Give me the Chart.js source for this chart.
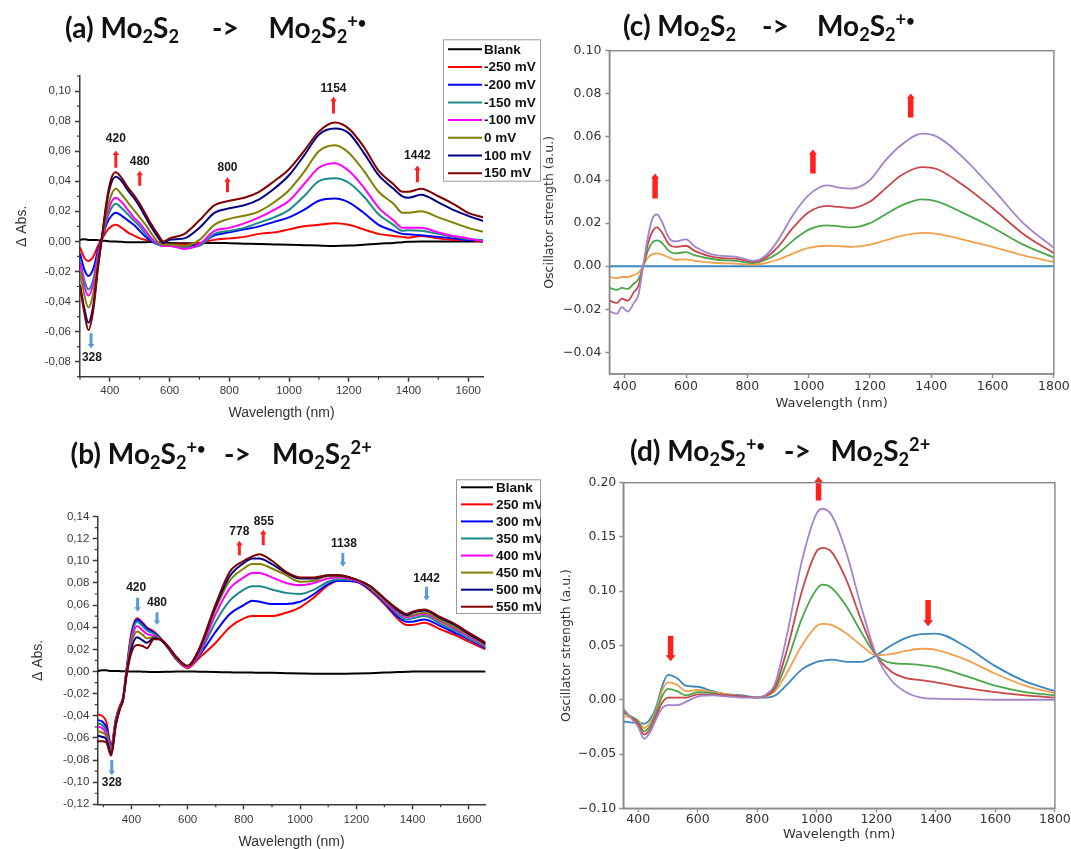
<!DOCTYPE html>
<html lang="en">
<head>
  <meta charset="UTF-8" />
  <title>Mo2S2 spectroelectrochemistry</title>
  <script src="https://cdn.jsdelivr.net/npm/chart.js"></script>
  <style>
    body { margin: 0; background: #fff; }
    #page { position: relative; width: 1071px; height: 849px; overflow: hidden; background: #fff; }
    canvas { position: absolute; }
    .t {
      position: absolute; z-index: 2; white-space: nowrap;
      font-family: Lato, "Open Sans", sans-serif; font-weight: 700;
      font-size: 28px; line-height: 28px; color: #111;
    }
    .t sub { font-size: 0.65em; vertical-align: -0.28em; line-height: 0; }
    .t sup { font-size: 0.65em; vertical-align: 0.55em; line-height: 0; }
    .t sup i { font-style: normal; font-size: 0.8em; }
  </style>
</head>
<body>
<div id="page">
  <canvas id="ca" width="541" height="430" style="left:0;top:0"></canvas>
  <canvas id="cb" width="541" height="419" style="left:0;top:430px"></canvas>
  <canvas id="cc" width="535" height="430" style="left:536px;top:0"></canvas>
  <canvas id="cd" width="535" height="419" style="left:536px;top:430px"></canvas>

  <div class="t" style="left:65px;top:12.7px">(a) Mo<sub>2</sub>S<sub>2</sub></div>
  <div class="t" style="left:212px;top:12.7px">-&gt;</div>
  <div class="t" style="left:268.6px;top:12.7px">Mo<sub>2</sub>S<sub>2</sub><sup>+<i>•</i></sup></div>

  <div class="t" style="left:623px;top:11px">(c) Mo<sub>2</sub>S<sub>2</sub></div>
  <div class="t" style="left:762px;top:11px">-&gt;</div>
  <div class="t" style="left:817px;top:11px">Mo<sub>2</sub>S<sub>2</sub><sup>+<i>•</i></sup></div>

  <div class="t" style="left:70.6px;top:439.3px">(b) Mo<sub>2</sub>S<sub>2</sub><sup>+<i>•</i></sup></div>
  <div class="t" style="left:224px;top:439.3px">-&gt;</div>
  <div class="t" style="left:272px;top:439.3px">Mo<sub>2</sub>S<sub>2</sub><sup>2+</sup></div>

  <div class="t" style="left:630px;top:436px">(d) Mo<sub>2</sub>S<sub>2</sub><sup>+<i>•</i></sup></div>
  <div class="t" style="left:784px;top:436px">-&gt;</div>
  <div class="t" style="left:830.5px;top:436px">Mo<sub>2</sub>S<sub>2</sub><sup>2+</sup></div>
</div>

<script>
// ---- (a) Mo2S2 -> Mo2S2+. experimental difference spectra
const aWave  = [300,315,328,345,360,375,390,405,420,440,460,480,500,520,540,560,580,600,650,700,750,800,850,900,950,1000,1050,1100,1154,1200,1250,1300,1350,1380,1400,1442,1500,1550,1600,1650];
const aBlank = [0.001,0.0015,0.001,0.001,0.0008,0.0005,0.0003,0,0,-0.0003,-0.0005,-0.0005,-0.0006,-0.0005,-0.0004,-0.0005,-0.0008,-0.001,-0.0012,-0.0012,-0.001,-0.0012,-0.0015,-0.0018,-0.002,-0.0022,-0.0025,-0.0028,-0.003,-0.0028,-0.0022,-0.0015,-0.001,-0.0005,-0.0003,0,0,0,0,-0.0002];
const aM250  = [-0.004,-0.011,-0.013,-0.010,-0.003,0.002,0.007,0.010,0.011,0.009,0.006,0.004,0.002,0.001,0.000,-0.001,-0.002,-0.002,-0.002,-0.001,0.001,0.002,0.003,0.005,0.006,0.008,0.010,0.011,0.012,0.011,0.008,0.005,0.0036,0.003,0.0025,0.0036,0.002,0.001,0.001,0.000];
const aM200  = [-0.008,-0.019,-0.023,-0.018,-0.006,0.003,0.012,0.017,0.019,0.017,0.014,0.011,0.007,0.003,0.000,-0.002,-0.003,-0.003,-0.003,-0.002,0.004,0.006,0.008,0.010,0.013,0.016,0.021,0.027,0.0285,0.026,0.019,0.011,0.007,0.005,0.0047,0.004,0.003,0.002,0.001,0.001];
const aM150  = [-0.012,-0.026,-0.032,-0.025,-0.009,0.003,0.015,0.022,0.025,0.022,0.018,0.014,0.010,0.005,0.001,-0.002,-0.003,-0.003,-0.004,-0.003,0.005,0.007,0.009,0.0125,0.016,0.021,0.030,0.040,0.042,0.039,0.030,0.018,0.011,0.007,0.0074,0.007,0.005,0.003,0.0015,0.001];
const aM100  = [-0.014,-0.030,-0.036,-0.028,-0.010,0.004,0.017,0.026,0.029,0.026,0.021,0.016,0.012,0.007,0.002,-0.001,-0.003,-0.003,-0.005,-0.002,0.007,0.009,0.012,0.016,0.021,0.027,0.038,0.049,0.052,0.047,0.036,0.0225,0.014,0.009,0.009,0.009,0.006,0.0036,0.002,0.000];
const aZero  = [-0.020,-0.036,-0.044,-0.034,-0.013,0.004,0.020,0.031,0.035,0.031,0.026,0.021,0.016,0.011,0.005,0.000,-0.002,-0.002,-0.003,0.001,0.011,0.015,0.017,0.020,0.026,0.034,0.046,0.060,0.064,0.059,0.047,0.033,0.025,0.019,0.019,0.020,0.016,0.0125,0.009,0.0065];
const aP100  = [-0.029,-0.045,-0.054,-0.042,-0.017,0.005,0.026,0.039,0.043,0.040,0.034,0.029,0.023,0.016,0.009,0.003,-0.001,0.001,0.002,0.009,0.019,0.022,0.024,0.028,0.035,0.044,0.057,0.071,0.075,0.072,0.059,0.044,0.035,0.030,0.029,0.031,0.026,0.021,0.017,0.0136];
const aP150  = [-0.030,-0.048,-0.059,-0.045,-0.018,0.005,0.028,0.042,0.046,0.042,0.036,0.031,0.025,0.018,0.011,0.005,0.000,0.002,0.005,0.014,0.024,0.027,0.029,0.033,0.040,0.048,0.060,0.073,0.079,0.075,0.063,0.047,0.038,0.033,0.033,0.035,0.030,0.025,0.019,0.016];
const aLabels = ['Blank','-250 mV','-200 mV','-150 mV','-100 mV','0 mV','100 mV','150 mV'];
const aXTicks = [400,600,800,1000,1200,1400,1600];
const aYTicks = [-0.08,-0.06,-0.04,-0.02,0,0.02,0.04,0.06,0.08,0.10];

// ---- (b) Mo2S2+. -> Mo2S2 2+ experimental difference spectra
const bWave  = [280,295,310,328,345,360,370,383,400,420,440,455,480,500,530,560,600,640,700,750,800,830,855,900,950,1000,1050,1100,1138,1200,1250,1300,1350,1380,1400,1442,1500,1550,1600,1660];
const bBlank = [0.0005,0.001,0.001,0.0005,0.0005,0.0003,0.0002,0,0,0,-0.0002,-0.0003,-0.0005,-0.0005,-0.0003,0,0,-0.0002,-0.0005,-0.0008,-0.001,-0.001,-0.0012,-0.0012,-0.0015,-0.0018,-0.002,-0.002,-0.002,-0.0018,-0.0015,-0.001,-0.0005,-0.0003,0,0,0,0,0,0];
const b250 = [-0.039,-0.040,-0.045,-0.066,-0.042,-0.030,-0.024,0.003,0.035,0.048,0.044,0.040,0.036,0.031,0.021,0.011,0.003,0.012,0.026,0.040,0.048,0.050,0.050,0.050,0.053,0.058,0.067,0.078,0.082,0.081,0.073,0.061,0.047,0.042,0.042,0.044,0.038,0.033,0.027,0.020];
const b300 = [-0.044,-0.045,-0.050,-0.068,-0.043,-0.031,-0.024,0.002,0.033,0.047,0.043,0.039,0.035,0.031,0.022,0.011,0.004,0.014,0.036,0.052,0.060,0.064,0.063,0.061,0.061,0.063,0.070,0.079,0.082,0.081,0.074,0.062,0.049,0.045,0.045,0.047,0.041,0.035,0.029,0.021];
const b350 = [-0.047,-0.048,-0.053,-0.069,-0.044,-0.031,-0.025,0.001,0.031,0.045,0.041,0.037,0.034,0.030,0.022,0.012,0.004,0.015,0.045,0.064,0.074,0.077,0.077,0.074,0.071,0.070,0.074,0.081,0.083,0.082,0.075,0.063,0.051,0.047,0.048,0.050,0.043,0.037,0.030,0.022];
const b400 = [-0.050,-0.051,-0.056,-0.070,-0.045,-0.032,-0.025,0.000,0.028,0.041,0.037,0.034,0.032,0.030,0.022,0.012,0.004,0.016,0.052,0.075,0.085,0.089,0.089,0.085,0.080,0.078,0.080,0.084,0.085,0.082,0.076,0.064,0.053,0.049,0.050,0.052,0.045,0.039,0.032,0.023];
const b450 = [-0.054,-0.055,-0.058,-0.072,-0.046,-0.032,-0.026,-0.001,0.025,0.036,0.033,0.030,0.031,0.030,0.022,0.012,0.005,0.018,0.057,0.082,0.093,0.097,0.097,0.093,0.087,0.081,0.082,0.086,0.086,0.083,0.076,0.065,0.054,0.050,0.051,0.053,0.046,0.040,0.033,0.024];
const b500 = [-0.058,-0.059,-0.061,-0.074,-0.047,-0.033,-0.026,-0.002,0.021,0.031,0.028,0.026,0.030,0.029,0.022,0.013,0.005,0.019,0.059,0.086,0.098,0.102,0.102,0.097,0.089,0.084,0.084,0.087,0.087,0.083,0.077,0.066,0.055,0.051,0.053,0.055,0.048,0.042,0.034,0.025];
const b550 = [-0.063,-0.063,-0.064,-0.076,-0.048,-0.033,-0.026,-0.003,0.017,0.024,0.023,0.021,0.029,0.029,0.023,0.013,0.005,0.020,0.061,0.090,0.100,0.104,0.106,0.100,0.090,0.085,0.085,0.087,0.087,0.083,0.077,0.066,0.056,0.052,0.054,0.056,0.049,0.043,0.035,0.026];
const bLabels = ['Blank','250 mV','300 mV','350 mV','400 mV','450 mV','500 mV','550 mV'];
const bXTicks = [400,600,800,1000,1200,1400,1600];
const bYTicks = [-0.12,-0.10,-0.08,-0.06,-0.04,-0.02,0,0.02,0.04,0.06,0.08,0.10,0.12,0.14];

// ---- (c) computed oscillator strengths, neutral -> cation
const cWave   = [350,375,390,410,430,445,460,475,490,505,520,545,565,600,630,700,760,820,860,900,950,1000,1060,1100,1140,1200,1250,1300,1370,1420,1500,1600,1700,1800];
const cBlue   = [0,0,0,0,0,0,0,0,0,0,0,0,0,0,0,0,0,0,0,0,0,0,0,0,0,0,0,0,0,0,0,0,0,0];
const cOrange = [-0.005,-0.0055,-0.005,-0.005,-0.004,-0.003,0.000,0.004,0.0055,0.006,0.0055,0.004,0.003,0.0032,0.0025,0.0015,0.0012,0.0008,0.0015,0.003,0.006,0.0085,0.0095,0.0093,0.009,0.010,0.012,0.014,0.0155,0.015,0.0125,0.009,0.005,0.002];
const cGreen  = [-0.010,-0.011,-0.010,-0.0105,-0.008,-0.006,0.000,0.007,0.011,0.012,0.011,0.007,0.006,0.0065,0.005,0.003,0.0025,0.0015,0.003,0.006,0.012,0.017,0.019,0.0185,0.018,0.020,0.024,0.028,0.031,0.030,0.025,0.018,0.010,0.004];
const cRed    = [-0.016,-0.017,-0.015,-0.016,-0.012,-0.009,0.000,0.010,0.016,0.018,0.016,0.010,0.009,0.0095,0.007,0.004,0.0035,0.002,0.004,0.009,0.018,0.025,0.028,0.0275,0.027,0.030,0.036,0.042,0.046,0.045,0.038,0.027,0.015,0.006];
const cPurple = [-0.021,-0.022,-0.019,-0.021,-0.017,-0.013,0.000,0.013,0.022,0.024,0.021,0.013,0.0115,0.0125,0.009,0.005,0.0045,0.0025,0.005,0.012,0.024,0.033,0.0375,0.0365,0.036,0.040,0.049,0.056,0.0615,0.060,0.051,0.036,0.020,0.0085];
const cXTicks = [400,600,800,1000,1200,1400,1600,1800];
const cYTicks = [-0.04,-0.02,0,0.02,0.04,0.06,0.08,0.10];

// ---- (d) computed oscillator strengths, cation -> dication
const dWave   = [350,380,400,420,440,460,480,500,530,560,600,650,700,750,800,830,860,900,950,1000,1020,1050,1100,1150,1200,1250,1300,1350,1400,1500,1600,1700,1800];
const dBlue   = [-0.020,-0.021,-0.021,-0.022,-0.018,-0.007,0.012,0.023,0.020,0.013,0.012,0.008,0.005,0.004,0.002,0.002,0.004,0.014,0.028,0.035,0.036,0.037,0.035,0.035,0.041,0.050,0.057,0.0605,0.061,0.049,0.031,0.017,0.008];
const dOrange = [-0.015,-0.017,-0.019,-0.026,-0.021,-0.010,0.008,0.016,0.014,0.008,0.009,0.007,0.005,0.003,0.002,0.003,0.008,0.025,0.050,0.068,0.070,0.069,0.061,0.050,0.041,0.042,0.045,0.047,0.046,0.037,0.024,0.013,0.006];
const dGreen  = [-0.012,-0.016,-0.020,-0.029,-0.024,-0.012,0.003,0.010,0.008,0.004,0.007,0.006,0.004,0.003,0.002,0.004,0.010,0.035,0.075,0.102,0.106,0.103,0.086,0.062,0.041,0.034,0.033,0.032,0.030,0.022,0.013,0.007,0.004];
const dRed    = [-0.010,-0.017,-0.022,-0.032,-0.027,-0.015,-0.003,0.002,0.002,0.002,0.005,0.005,0.004,0.003,0.002,0.004,0.012,0.046,0.100,0.137,0.140,0.136,0.110,0.073,0.041,0.026,0.020,0.018,0.016,0.011,0.007,0.004,0.002];
const dPurple = [-0.008,-0.018,-0.025,-0.036,-0.030,-0.018,-0.008,-0.005,-0.005,-0.002,0.003,0.004,0.003,0.002,0.002,0.005,0.015,0.060,0.128,0.172,0.176,0.170,0.135,0.085,0.041,0.018,0.007,0.002,0.001,0.0005,0,0,0];
const dXTicks = [400,600,800,1000,1200,1400,1600,1800];
const dYTicks = [-0.10,-0.05,0,0.05,0.10,0.15,0.20];

// peak markers: arrow from -> to (data units), optional label
const RED = '#ff2020', BLUE = '#5b9bd5';
const aNotes = [
  { x: 420,  from: 0.049,  to: 0.0605, text: '420',  ty: 0.0683, color: RED },
  { x: 500,  from: 0.037,  to: 0.047,  text: '480',  ty: 0.0527, color: RED },
  { x: 794,  from: 0.0326, to: 0.0426, text: '800',  ty: 0.0493, color: RED },
  { x: 1149, from: 0.085,  to: 0.0962, text: '1154', ty: 0.1018, color: RED },
  { x: 1430, from: 0.0393, to: 0.0504, text: '1442', ty: 0.0567, color: RED },
  { x: 337,  from: -0.0611, to: -0.0712, text: '328', tx: 340, ty: -0.0772, color: BLUE }
];
const bNotes = [
  { x: 422,  from: 0.0665, to: 0.054,  text: '420',  tx: 417, ty: 0.0756, color: BLUE },
  { x: 491,  from: 0.0535, to: 0.042,  text: '480',  ty: 0.062,  color: BLUE },
  { x: 784,  from: 0.105,  to: 0.118,  text: '778',  ty: 0.126,  color: RED },
  { x: 869,  from: 0.114,  to: 0.128,  text: '855',  tx: 871, ty: 0.135, color: RED },
  { x: 1152, from: 0.107,  to: 0.0946, text: '1138', tx: 1156, ty: 0.1155, color: BLUE },
  { x: 1450, from: 0.0765, to: 0.064,  text: '1442', ty: 0.084,  color: BLUE },
  { x: 330,  from: -0.080, to: -0.0937, text: '328', ty: -0.1007, color: BLUE }
];
const cNotes = [
  { x: 499,  from: 0.0314, to: 0.043,  color: RED },
  { x: 1014, from: 0.043,  to: 0.0542, color: RED },
  { x: 1333, from: 0.069,  to: 0.0802, color: RED }
];
const dNotes = [
  { x: 1006, from: 0.1835, to: 0.2055, color: RED },
  { x: 509,  from: 0.059,  to: 0.0355, color: RED },
  { x: 1374, from: 0.092,  to: 0.0677, color: RED }
];

// ---- plugins
const boxLegend = {
  id: 'boxLegend',
  afterDraw(chart, args, o) {
    if (!o || o.w === undefined) return;
    const ctx = chart.ctx;
    ctx.save();
    ctx.fillStyle = '#fff';
    ctx.fillRect(o.x, o.y, o.w, o.h);
    ctx.strokeStyle = '#9a9a9a';
    ctx.lineWidth = 1;
    ctx.strokeRect(o.x + 0.5, o.y + 0.5, o.w - 1, o.h - 1);
    ctx.font = o.font;
    ctx.textBaseline = 'middle';
    chart.data.datasets.forEach((ds, i) => {
      const yy = o.first + i * o.row;
      ctx.strokeStyle = ds.borderColor;
      ctx.lineWidth = 2;
      ctx.beginPath();
      ctx.moveTo(o.l0, yy);
      ctx.lineTo(o.l1, yy);
      ctx.stroke();
      ctx.fillStyle = '#111';
      ctx.fillText(ds.label, o.tx, yy + 0.5);
    });
    ctx.restore();
  }
};

function arrow(ctx, x, y0, y1, shaft, head, headLen) {
  const dir = y1 > y0 ? 1 : -1;
  const yb = y1 - dir * headLen;
  ctx.beginPath();
  ctx.moveTo(x - shaft / 2, y0);
  ctx.lineTo(x + shaft / 2, y0);
  ctx.lineTo(x + shaft / 2, yb);
  ctx.lineTo(x + head / 2, yb);
  ctx.lineTo(x, y1);
  ctx.lineTo(x - head / 2, yb);
  ctx.lineTo(x - shaft / 2, yb);
  ctx.closePath();
  ctx.fill();
}

const notes = {
  id: 'notes',
  afterDatasetsDraw(chart, args, o) {
    if (!o || !o.items) return;
    const { ctx, scales: { x, y } } = chart;
    ctx.save();
    ctx.font = 'bold 12px "Liberation Sans", Arial, sans-serif';
    ctx.textAlign = 'center';
    ctx.textBaseline = 'middle';
    o.items.forEach(n => {
      ctx.fillStyle = n.color;
      arrow(ctx, x.getPixelForValue(n.x), y.getPixelForValue(n.from), y.getPixelForValue(n.to),
        o.shaft, o.head, o.headLen);
      if (n.text) {
        ctx.fillStyle = '#1a1a1a';
        ctx.fillText(n.text, x.getPixelForValue(n.tx !== undefined ? n.tx : n.x), y.getPixelForValue(n.ty));
      }
    });
    ctx.restore();
  }
};

const minorTicks = {
  id: 'minorTicks',
  afterDraw(chart, args, o) {
    if (!o || !o.x) return;
    const { ctx, chartArea: a, scales: { x, y } } = chart;
    ctx.save();
    ctx.strokeStyle = o.color;
    ctx.lineWidth = o.width;
    ctx.beginPath();
    for (let k = Math.ceil(x.min / o.x - 1e-6); k * o.x <= x.max + 1e-6; k++) {
      if (k % 2 === 0) continue;
      const px = x.getPixelForValue(k * o.x);
      ctx.moveTo(px, a.bottom);
      ctx.lineTo(px, a.bottom + o.len);
    }
    for (let k = Math.ceil(y.min / o.y - 1e-6); k * o.y <= y.max + 1e-6; k++) {
      if (k % 2 === 0) continue;
      const py = y.getPixelForValue(k * o.y);
      ctx.moveTo(a.left, py);
      ctx.lineTo(a.left - o.len, py);
    }
    ctx.stroke();
    ctx.restore();
  }
};

const frame = {
  id: 'frame',
  afterDraw(chart, args, o) {
    if (!o || !o.color) return;
    const { ctx, chartArea: a } = chart;
    ctx.save();
    ctx.strokeStyle = o.color;
    ctx.lineWidth = o.width;
    ctx.strokeRect(a.left, a.top, a.right - a.left, a.bottom - a.top);
    ctx.restore();
  }
};

// ---- helpers
const originFmt = v => (v < 0 ? '-' : '') + Math.abs(v).toFixed(2).replace('.', ',');
const mplFmt = v => (v < 0 ? '\u2212' : '') + Math.abs(v).toFixed(2);
const intFmt = v => String(v);

function axis(c, horiz) {
  return {
    type: 'linear',
    min: c.min,
    max: c.max,
    afterFit: s => { if (horiz) s.height = c.size; else s.width = c.size; },
    afterBuildTicks: s => { s.ticks = c.ticks.map(v => ({ value: v })); },
    ticks: { autoSkip: false, maxRotation: 0, padding: c.pad, color: c.tickColor, font: c.font, callback: c.fmt },
    grid: { drawOnChartArea: false, drawTicks: true, tickLength: c.tl, tickColor: c.line, tickWidth: c.lw, color: c.line },
    border: { display: true, color: c.line, width: c.lw },
    title: { display: true, text: c.title, color: c.titleColor, font: c.titleFont, padding: c.titlePad }
  };
}

function panel(id, wave, sets, cfg) {
  const n = sets.length;
  return new Chart(document.getElementById(id), {
    type: 'line',
    data: {
      datasets: sets.map((s, i) => ({
        label: s.label,
        data: wave.map((w, k) => ({ x: w, y: s.values[k] })),
        borderColor: s.color,
        borderWidth: cfg.lineWidth,
        pointRadius: 0,
        fill: false,
        cubicInterpolationMode: 'monotone',
        order: n - i
      }))
    },
    options: {
      responsive: false,
      animation: false,
      events: [],
      layout: { autoPadding: false, padding: cfg.padding },
      plugins: {
        legend: { display: false },
        tooltip: { enabled: false },
        boxLegend: cfg.legend || false,
        notes: cfg.notes,
        minorTicks: cfg.minor || false,
        frame: cfg.frame || false
      },
      scales: { x: axis(cfg.x, true), y: axis(cfg.y, false) }
    },
    plugins: [boxLegend, notes, minorTicks, frame]
  });
}

const ORIGIN_FONT = '"Liberation Sans", Arial, sans-serif';
const MPL_FONT = '"DejaVu Sans", sans-serif';
const originAxis = {
  tickColor: '#3a3a3a', line: '#3a3a3a', lw: 1.5, tl: 5,
  font: { family: ORIGIN_FONT, size: 11.5 }, titleColor: '#333',
  titleFont: { family: ORIGIN_FONT, size: 14, lineHeight: 1 }
};
const mplAxis = {
  tickColor: '#333', line: '#8c8c8c', lw: 1.5, tl: 4,
  font: { family: MPL_FONT, size: 12.5 }, titleColor: '#333'
};
const originColors = ['#000000', '#ff0000', '#0000ff', '#1a8a8a', '#ff00ff', '#808000', '#000080', '#800000'];

panel('ca', aWave,
  [aBlank, aM250, aM200, aM150, aM100, aZero, aP100, aP150].map((v, i) => ({ label: aLabels[i], values: v, color: originColors[i] })),
  {
    lineWidth: 2,
    padding: { left: 0, right: 57.9, top: 76, bottom: 5.3 },
    x: Object.assign({}, originAxis, { min: 300, max: 1650, size: 48, ticks: aXTicks, pad: 2.4, fmt: intFmt,
      title: 'Wavelength (nm)', titlePad: { top: 0, bottom: 4.4 } }),
    y: Object.assign({}, originAxis, { min: -0.09, max: 0.11, size: 80, ticks: aYTicks, pad: 4, fmt: originFmt,
      title: '\u0394 Abs.', titlePad: { top: 15.4, bottom: 0 } }),
    minor: { x: 100, y: 0.01, len: 3, color: '#3a3a3a', width: 1.2 },
    notes: { items: aNotes, shaft: 3, head: 6.5, headLen: 4.5 },
    legend: { x: 443, y: 39.3, w: 98, h: 142.4, first: 49.3, row: 17.7, l0: 448, l1: 482, tx: 484,
      font: 'bold 13.5px ' + ORIGIN_FONT }
  });

panel('cb', bWave,
  [bBlank, b250, b300, b350, b400, b450, b500, b550].map((v, i) => ({ label: bLabels[i], values: v, color: originColors[i] })),
  {
    lineWidth: 2,
    padding: { left: 0, right: 55.4, top: 86.5, bottom: 0 },
    x: Object.assign({}, originAxis, { min: 280, max: 1660, size: 44.7, ticks: bXTicks, pad: 3.4, fmt: intFmt,
      title: 'Wavelength (nm)', titlePad: { top: 0, bottom: 0.3 } }),
    y: Object.assign({}, originAxis, { min: -0.12, max: 0.14, size: 97.7, ticks: bYTicks, pad: 3.4, fmt: originFmt,
      title: '\u0394 Abs.', titlePad: { top: 31, bottom: 0 } }),
    minor: { x: 100, y: 0.01, len: 3, color: '#3a3a3a', width: 1.2 },
    notes: { items: bNotes, shaft: 3, head: 6.5, headLen: 4.5 },
    legend: { x: 456, y: 49.3, w: 85, h: 134.7, first: 57.3, row: 17.06, l0: 461, l1: 493, tx: 496,
      font: 'bold 13.5px ' + ORIGIN_FONT }
  });

const mplColors = ['#3a87c0', '#f2a04e', '#4aa84a', '#c8474b', '#a383cc'];

panel('cc', cWave,
  [cBlue, cOrange, cGreen, cRed, cPurple].map((v, i) => ({ label: 'c' + i, values: v, color: mplColors[i] })),
  {
    lineWidth: 1.8,
    padding: { left: 0, right: 15.3, top: 50.7, bottom: 6 },
    x: Object.assign({}, mplAxis, { min: 350, max: 1800, size: 50, ticks: cXTicks, pad: 1.2, fmt: intFmt,
      title: 'Wavelength (nm)', titleFont: { family: MPL_FONT, size: 13, lineHeight: 1 }, titlePad: { top: 0, bottom: 14.2 } }),
    y: Object.assign({}, mplAxis, { min: -0.05, max: 0.10, size: 73.4, ticks: cYTicks, pad: 4, fmt: mplFmt,
      title: 'Oscillator strength (a.u.)', titleFont: { family: MPL_FONT, size: 12.5, lineHeight: 1 }, titlePad: { top: 7.75, bottom: 0 } }),
    notes: { items: cNotes, shaft: 5.5, head: 8, headLen: 5 },
    frame: { color: '#8c8c8c', width: 1.5 }
  });

panel('cd', dWave,
  [dBlue, dOrange, dGreen, dRed, dPurple].map((v, i) => ({ label: 'd' + i, values: v, color: mplColors[i] })),
  {
    lineWidth: 1.8,
    padding: { left: 0, right: 15.3, top: 52.7, bottom: 0 },
    x: Object.assign({}, mplAxis, { min: 350, max: 1800, size: 40.7, ticks: dXTicks, pad: 0.2, fmt: intFmt,
      title: 'Wavelength (nm)', titleFont: { family: MPL_FONT, size: 13, lineHeight: 1 }, titlePad: { top: 0, bottom: 7.5 } }),
    y: Object.assign({}, mplAxis, { min: -0.10, max: 0.20, size: 87.3, ticks: dYTicks, pad: 3, fmt: mplFmt,
      title: 'Oscillator strength (a.u.)', titleFont: { family: MPL_FONT, size: 12.5, lineHeight: 1 }, titlePad: { top: 24.75, bottom: 0 } }),
    notes: { items: dNotes, shaft: 5.5, head: 10, headLen: 6 },
    frame: { color: '#8c8c8c', width: 1.5 }
  });
</script>
</body>
</html>
